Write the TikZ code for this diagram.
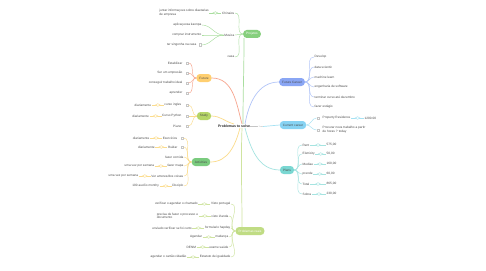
\documentclass[tikz,border=0pt]{standalone}
\usepackage{fontspec}
\setmainfont{Liberation Sans}
\usetikzlibrary{shapes.geometric}
\definecolor{fPj}{HTML}{86CF7D}\definecolor{lPj}{HTML}{A9DE9F}
\definecolor{fFu}{HTML}{FFCF70}\definecolor{lFu}{HTML}{F7A58E}
\definecolor{fSt}{HTML}{B5D568}\definecolor{lSt}{HTML}{FBDC8C}
\definecolor{fAc}{HTML}{7ACB7E}
\definecolor{fPR}{HTML}{C0DC84}\definecolor{lPR}{HTML}{CFE4A0}
\definecolor{fFC}{HTML}{8AA6F4}\definecolor{lFC}{HTML}{B3C6F8}
\definecolor{fCC}{HTML}{87D3F3}\definecolor{lCC}{HTML}{A6E2F3}
\definecolor{fPl}{HTML}{7AD7D2}\definecolor{lPl}{HTML}{A5E4E1}
\begin{document}
\begin{tikzpicture}[x=1pt,y=-1pt,
  every node/.style={font=\fontsize{3.15}{3.7}\selectfont, text=black!70, inner sep=0.5pt},
  branch/.style={rounded corners=3.5pt, minimum height=8pt, inner xsep=3pt, text=black!70},
  chk/.style={draw=gray!45, rectangle, minimum size=2.6pt, inner sep=0pt},
  dmd/.style={diamond, draw, aspect=1.8, minimum width=5pt, minimum height=2.8pt, inner sep=0pt, fill=white},
  main/.style={line width=0.7pt},
  sub/.style={line width=0.45pt},
  two/.style={align=left}]
\useasboundingbox (0,0) rectangle (486,270);
\fill[white] (0,0) rectangle (486,270);

% central
\node[font=\bfseries\fontsize{3.5}{4}\selectfont, text=black!85] (C) at (238,126) {Problemas to solve........};
\coordinate (Cu) at (263,126.5);
\draw[gray!60, line width=0.3pt] (C.east) -- (Cu);

% branch nodes
\node[branch, fill=fPj, text=white] (Pj) at (252,34) {Projetos};
\node[branch, fill=fFu] (Fu) at (204,78) {Future};
\node[branch, fill=fSt] (St) at (204,116) {Study};
\node[branch, fill=fAc] (Ac) at (201,162) {Activities};
\node[branch, fill=fPR, text=white] (PR) at (250,231) {Problemas reais};
\node[branch, fill=fFC] (FC) at (292,82) {Future Career};
\node[branch, fill=fCC] (CC) at (293,125) {Current career};
\node[branch, fill=fPl] (Pl) at (287,170) {Plans};

% central connectors
\draw[main, lPj] ([xshift=5]C.north) to[out=90,in=-90] ([xshift=-8]Pj.south);
\draw[main, lFu] ([xshift=4]C.north) to[out=105,in=0] (Fu.east);
\draw[main, lSt] ([xshift=-4]C.north) to[out=165,in=0] (St.east);
\draw[main, lFC] ([xshift=7]C.north) to[out=80,in=180] (FC.west);
\draw[main, lCC] (Cu) -- (CC.west);
\draw[main, lPl] ([xshift=7]C.south) to[out=-75,in=180] (Pl.west);
\draw[main, lPR] ([xshift=4]C.south) to[out=-92,in=90] ([xshift=-8]PR.north);
\draw[main, lSt] ([xshift=2]C.south) to[out=-105,in=0] (Ac.east);

% Projetos children
\node[anchor=east] (pj1) at (235,13) {Chinaios};
\node[anchor=east] (pj2) at (235,35) {Musica};
\node[anchor=east] (pj3) at (235,57) {casa};
\foreach \n in {pj1,pj2,pj3} \draw[sub, lPj] (Pj.west) to[out=180,in=0] (\n.east);
\node[two, anchor=east] (pj1a) at ([xshift=-12]pj1.west) {juntar informaçoes sobre diaetarias\\de empresa};
\draw[sub, lPj] (pj1a.east) -- node[dmd, draw=lPj]{} (pj1.west);
\node[anchor=east] (pj2a) at (202,25) {aplicaçeosa kaonpa};
\node[anchor=east] (pj2b) at (202,35) {comprar instrumento};
\node[anchor=east] (pj2c) at (197,45) {ter singonha na casa};
\node[chk] (pj2ck) at (200,45) {};
\draw[sub, lPj] (pj2.west) to[out=180,in=0] (pj2a.east);
\draw[sub, lPj] (pj2.west) to[out=180,in=0] (pj2b.east);
\draw[sub, lPj] (pj2.west) to[out=180,in=0] (pj2ck.east);

% Future children
\node[anchor=east] (fu1) at (183,63) {Estabilizar};
\node[anchor=east] (fu2) at (183,73) {Ser um empresão};
\node[anchor=east] (fu3) at (183,83) {conseguir trabalho ideal};
\node[anchor=east] (fu4) at (183,93) {aprender};
\foreach \y/\n in {63/a,73/b,83/c,93/d} {
  \node[chk] (fuk\n) at (187,\y) {};
  \draw[sub, lFu] (Fu.west) to[out=180,in=0] (fuk\n.east);
}

% Study children
\node[anchor=east] (st1) at (182,105) {curso ingles};
\node[anchor=east] (st2) at (182,116) {Curso Python};
\node[anchor=east] (st3) at (182,126) {Piano};
\foreach \y/\n in {105/a,116/b,126/c} {
  \node[chk] (stk\n) at (187,\y) {};
  \draw[sub, lSt] (St.west) to[out=180,in=0] (stk\n.east);
}
\node[anchor=east] (st1a) at ([xshift=-12]st1.west) {diariamente};
\node[anchor=east] (st2a) at ([xshift=-12]st2.west) {diariamente};
\draw[sub, lSt] (st1a.east) -- node[dmd, draw=lSt]{} (st1.west);
\draw[sub, lSt] (st2a.east) -- node[dmd, draw=lSt]{} (st2.west);

% Activities children
\node[anchor=east] (ac1) at (178,138) {Exercícios};
\node[chk] (ac1k) at (182,138) {};
\node[anchor=east] (ac2) at (178,147) {Ruidar};
\node[chk] (ac2k) at (182,147) {};
\node[anchor=east] (ac3) at (184,157) {fazer comida};
\node[anchor=east] (ac4) at (184,166) {fazer mapa};
\node[anchor=east] (ac5) at (184,176) {Ver amores/dos coisas};
\node[anchor=east] (ac6) at (184,186) {Disciplo};
\foreach \n in {ac1k,ac2k,ac3,ac4,ac5,ac6} \draw[sub, lSt] (Ac.west) to[out=180,in=0] (\n.east);
\node[anchor=east] (ac1a) at ([xshift=-12]ac1.west) {diariamente};
\node[anchor=east] (ac2a) at ([xshift=-12]ac2.west) {diariamente};
\node[anchor=east] (ac4a) at ([xshift=-12]ac4.west) {uma vez por semana};
\node[anchor=east] (ac5a) at ([xshift=-12]ac5.west) {uma vez por semana};
\node[anchor=east] (ac6a) at ([xshift=-12]ac6.west) {100 auxílio monthy};
\draw[sub, lSt] (ac1a.east) -- node[dmd, draw=lSt]{} (ac1.west);
\draw[sub, lSt] (ac2a.east) -- node[dmd, draw=lSt]{} (ac2.west);
\draw[sub, lSt] (ac4a.east) -- node[dmd, draw=lSt]{} (ac4.west);
\draw[sub, lSt] (ac5a.east) -- node[dmd, draw=lSt]{} (ac5.west);
\draw[sub, lSt] (ac6a.east) -- node[dmd, draw=lSt]{} (ac6.west);

% Problemas reais children
\node[anchor=east] (pr1) at (231,204) {Visto portugal};
\node[anchor=east] (pr2) at (229,216) {visto irlanda};
\node[anchor=east] (pr3) at (231,228) {formulario hapday};
\node[anchor=east] (pr4) at (229,237) {mudança};
\node[anchor=east] (pr5) at (229,247) {exame saúde};
\node[anchor=east] (pr6) at (231,257) {Estatuto de igualdade};
\foreach \n in {pr1,pr2,pr3,pr4,pr5,pr6} \draw[sub, lPR] (PR.west) to[out=180,in=0] (\n.east);
\node[anchor=east] (pr1a) at ([xshift=-12]pr1.west) {verificar o agendar o chamado};
\node[two, anchor=east] (pr2a) at ([xshift=-12]pr2.west) {precisa de fazer o processo e\\documento};
\node[anchor=east] (pr3a) at ([xshift=-12]pr3.west) {enviado verificar se foi certo};
\node[anchor=east] (pr4a) at ([xshift=-12]pr4.west) {Agendar};
\node[anchor=east] (pr5a) at ([xshift=-12]pr5.west) {DENM};
\node[anchor=east] (pr6a) at ([xshift=-12]pr6.west) {agendar o cartão cidadão};
\foreach \a/\b in {pr1a/pr1,pr2a/pr2,pr3a/pr3,pr4a/pr4,pr5a/pr5,pr6a/pr6}
  \draw[sub, lPR] (\a.east) -- node[dmd, draw=lPR]{} (\b.west);

% Future Career children
\node[anchor=west] (fc1) at (314,57) {Develop};
\node[anchor=west] (fc2) at (314,67) {data scientic};
\node[anchor=west] (fc3) at (314,77) {machine learn};
\node[anchor=west] (fc4) at (314,87) {engenharia de software};
\node[anchor=west] (fc5) at (314,97) {terminar curso até dezembro};
\node[anchor=west] (fc6) at (314,107) {fazer estágio};
\foreach \n in {fc1,fc2,fc3,fc4,fc5,fc6} \draw[sub, lFC] (FC.east) to[out=0,in=180] (\n.west);

% Current career children
\node[chk] (cck1) at (318,118) {};
\node[anchor=west] (cc1) at (322,118) {Property Residence};
\node[anchor=west] (cc1a) at (364,118) {1200.00};
\draw[sub, lCC] (cc1.east) -- node[dmd, draw=lCC]{} (cc1a.west);
\node[chk] (cck2) at (318,130) {};
\node[anchor=west, two] (cc2) at (322,130) {Procurar nova trabalho a partir\\de horas ? today};
\draw[sub, lCC] (CC.east) to[out=0,in=180] (cck1.west);
\draw[sub, lCC] (CC.east) to[out=0,in=180] (cck2.west);

% Plans children
\foreach \y/\n/\t/\v in {145/a/Rent/575{,}00,154/b/Eletricity/50{,}00,164/c/Mediae/160{,}00,174/d/prende/60{,}00,184/e/Total/865{,}00,194/f/Sobra/230{,}00} {
  \node[anchor=west] (pl\n) at (302,\y) {\t};
  \node[anchor=west] (pl\n v) at (326,\y) {\v};
  \draw[sub, lPl] (Pl.east) to[out=0,in=180] (pl\n.west);
  \draw[sub, lPl] (pl\n.east) -- node[dmd, draw=lPl]{} (pl\n v.west);
}
\end{tikzpicture}
\end{document}
